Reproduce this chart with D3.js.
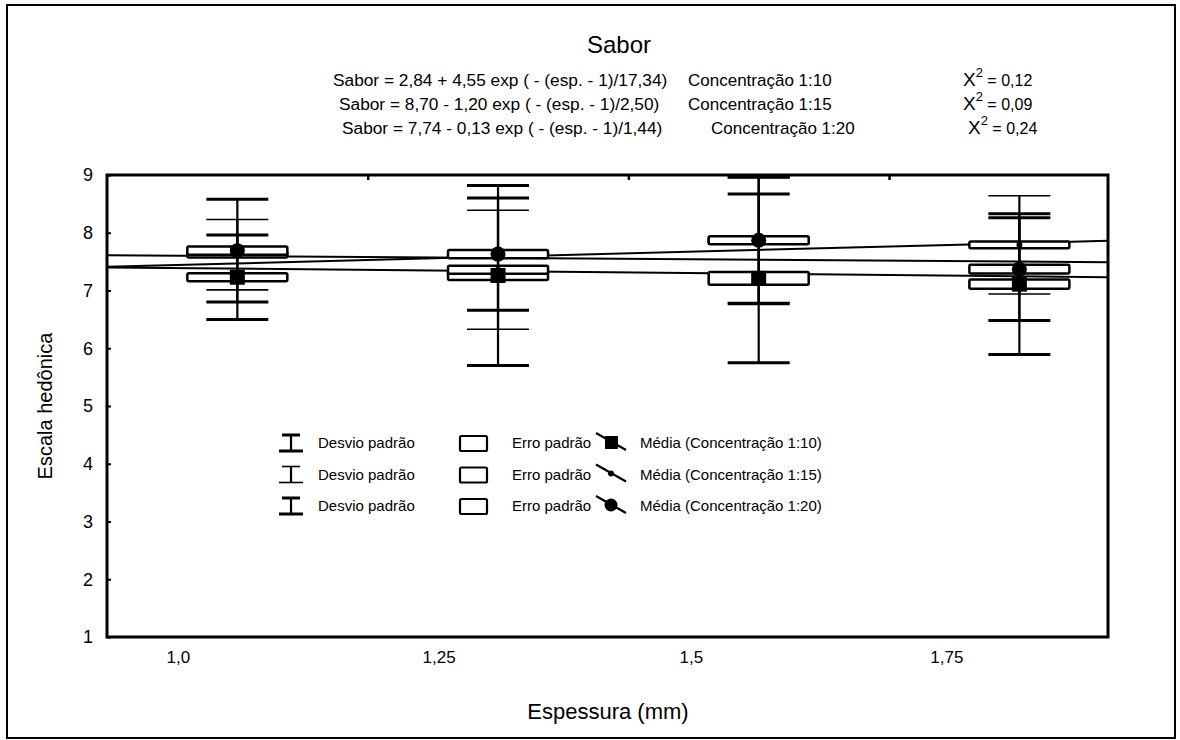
<!DOCTYPE html>
<html>
<head>
<meta charset="utf-8">
<script src="https://cdn.jsdelivr.net/npm/d3@7"></script>
<style>
  body { margin: 0; background: #fff; }
  svg { font-family: "Liberation Sans", Arial, sans-serif; }
  text { fill: #000; }
</style>
</head>
<body>
<svg></svg>
<script>
const width = 1180;
const height = 740;

// categories (espessura, mm) and where their labels sit
const esp = [1.0, 1.25, 1.5, 1.75];
const xLabels = ["1,0", "1,25", "1,5", "1,75"];
const xLabelPos = [0.943, 1.193, 1.435, 1.68];
const xTopTicks = [1.125, 1.375, 1.625];
const yTicks = [1, 2, 3, 4, 5, 6, 7, 8, 9];

// Concentração 1:10 (square)
const mean10 = [7.23, 7.26, 7.21, 7.11];
const se10 = [0.07, 0.08, 0.11, 0.08];
const sd10 = [0.73, 1.56, 1.46, 1.22];
// Concentração 1:15 (small dot)
const mean15 = [7.62, 7.36, 7.87, 7.79];
const se15 = [0.05, 0.07, 0.05, 0.06];
const sd15 = [0.61, 1.03, 1.08, 0.85];
// Concentração 1:20 (circle)
const mean20 = [7.69, 7.63, 7.87, 7.37];
const se20 = [0.07, 0.07, 0.07, 0.075];
const sd20 = [0.89, 0.97, 1.10, 0.89];

// fitted curves, read at the left and right edge of the plot
const fitEsp = [0.875, 1.835];
const fit10 = [7.40, 7.23];
const fit15 = [7.41, 7.86];
const fit20 = [7.61, 7.49];

const equations = [
  "Sabor = 2,84 + 4,55 exp ( - (esp. - 1)/17,34)",
  "Sabor = 8,70 - 1,20 exp ( - (esp. - 1)/2,50)",
  "Sabor = 7,74 - 0,13 exp ( - (esp. - 1)/1,44)"
];
const concLabels = ["Concentração 1:10", "Concentração 1:15", "Concentração 1:20"];
const chiValues = ["0,12", "0,09", "0,24"];

const margin = { left: 107, right: 72, top: 175, bottom: 103 };

const svg = d3.select("svg").attr("width", width).attr("height", height);

const x = d3.scaleLinear().domain([0.875, 1.835]).range([margin.left, width - margin.right]);
const y = d3.scaleLinear().domain([1, 9]).range([height - margin.bottom, margin.top]);

// outer frame
svg.append("rect")
  .attr("x", 7).attr("y", 5)
  .attr("width", width - 12).attr("height", height - 7)
  .attr("fill", "none").attr("stroke", "#000").attr("stroke-width", 2);

// title and equations
svg.append("text")
  .attr("x", 619).attr("y", 53)
  .attr("text-anchor", "middle")
  .attr("font-size", 24)
  .text("Sabor");

const eqX = [333, 339, 342];
const concX = [688, 688, 711];
const chiX = [963, 963, 968];
const eqY = [86, 110, 134];

equations.forEach((eq, i) => {
  svg.append("text").attr("x", eqX[i]).attr("y", eqY[i]).attr("font-size", 17.3).text(eq);
  svg.append("text").attr("x", concX[i]).attr("y", eqY[i]).attr("font-size", 17).text(concLabels[i]);
  const t = svg.append("text").attr("x", chiX[i]).attr("y", eqY[i]).attr("font-size", 19);
  t.append("tspan").text("X");
  t.append("tspan").attr("dy", -9).attr("font-size", 13).text("2");
  t.append("tspan").attr("dy", 9).attr("font-size", 16).text(" = " + chiValues[i]);
});

// axes
const yAxis = d3.axisLeft(y).tickValues(yTicks).tickSize(-4).tickPadding(14);
svg.append("g")
  .attr("transform", "translate(" + margin.left + ",0)")
  .call(yAxis)
  .call(g => g.select(".domain").remove())
  .call(g => g.selectAll("line").attr("stroke-width", 2))
  .selectAll("text").attr("font-size", 18).attr("fill", "#000");

const xAxis = d3.axisBottom(x)
  .tickValues(xLabelPos)
  .tickFormat((d, i) => xLabels[i])
  .tickSize(0).tickPadding(14);
svg.append("g")
  .attr("transform", "translate(0," + (height - margin.bottom) + ")")
  .call(xAxis)
  .call(g => g.select(".domain").remove())
  .selectAll("text").attr("font-size", 17).attr("fill", "#000");

const topAxis = d3.axisTop(x).tickValues(xTopTicks).tickFormat("").tickSize(-5);
svg.append("g")
  .attr("transform", "translate(0," + margin.top + ")")
  .call(topAxis)
  .call(g => g.select(".domain").remove())
  .selectAll("line").attr("stroke-width", 2.5);

svg.append("text")
  .attr("transform", "translate(52," + ((margin.top + height - margin.bottom) / 2) + ") rotate(-90)")
  .attr("text-anchor", "middle")
  .attr("font-size", 20)
  .text("Escala hedônica");

svg.append("text")
  .attr("x", 608).attr("y", 719)
  .attr("text-anchor", "middle")
  .attr("font-size", 22)
  .text("Espessura (mm)");

// plot frame
svg.append("rect")
  .attr("x", margin.left).attr("y", margin.top)
  .attr("width", width - margin.left - margin.right)
  .attr("height", height - margin.top - margin.bottom)
  .attr("fill", "none").attr("stroke", "#000").attr("stroke-width", 3);

const plot = svg.append("g");

// fitted lines
const line = d3.line().x(d => x(d[0])).y(d => y(d[1]));
[fit10, fit15, fit20].forEach(f => {
  plot.append("path")
    .attr("d", line(fitEsp.map((e, i) => [e, f[i]])))
    .attr("fill", "none").attr("stroke", "#000").attr("stroke-width", 2);
});

const series = [
  { mean: mean10, se: se10, sd: sd10, whisker: 3, marker: "square" },
  { mean: mean15, se: se15, sd: sd15, whisker: 1.6, marker: "dot" },
  { mean: mean20, se: se20, sd: sd20, whisker: 3, marker: "circle" }
];

const capHalf = 31;
const boxHalf = 50;
const yCapped = v => y(Math.min(9, v));

series.forEach(s => {
  const rows = esp.map((e, i) => ({ e: e, m: s.mean[i], se: s.se[i], sd: s.sd[i] }));
  const g = plot.append("g");

  g.selectAll(".whisk").data(rows).enter().append("line")
    .attr("x1", d => x(d.e)).attr("x2", d => x(d.e))
    .attr("y1", d => yCapped(d.m + d.sd)).attr("y2", d => y(d.m - d.sd))
    .attr("stroke", "#000").attr("stroke-width", 2.2);

  g.selectAll(".capHi").data(rows).enter().append("line")
    .attr("x1", d => x(d.e) - capHalf).attr("x2", d => x(d.e) + capHalf)
    .attr("y1", d => yCapped(d.m + d.sd)).attr("y2", d => yCapped(d.m + d.sd))
    .attr("stroke", "#000").attr("stroke-width", s.whisker);

  g.selectAll(".capLo").data(rows).enter().append("line")
    .attr("x1", d => x(d.e) - capHalf).attr("x2", d => x(d.e) + capHalf)
    .attr("y1", d => y(d.m - d.sd)).attr("y2", d => y(d.m - d.sd))
    .attr("stroke", "#000").attr("stroke-width", s.whisker);

  g.selectAll(".box").data(rows).enter().append("rect")
    .attr("x", d => x(d.e) - boxHalf).attr("width", boxHalf * 2)
    .attr("y", d => y(d.m + d.se)).attr("height", d => y(d.m - d.se) - y(d.m + d.se))
    .attr("rx", 1.5)
    .attr("fill", "#fff").attr("stroke", "#000").attr("stroke-width", 2.5);

  g.selectAll(".stem").data(rows).enter().append("line")
    .attr("x1", d => x(d.e)).attr("x2", d => x(d.e))
    .attr("y1", d => y(d.m + d.se)).attr("y2", d => y(d.m - d.se))
    .attr("stroke", "#000").attr("stroke-width", 2.2);
});

// markers on top
series.forEach(s => {
  const rows = esp.map((e, i) => ({ e: e, m: s.mean[i] }));
  if (s.marker === "square") {
    plot.selectAll(null).data(rows).enter().append("rect")
      .attr("x", d => x(d.e) - 7.5).attr("y", d => y(d.m) - 7.5)
      .attr("width", 15).attr("height", 15).attr("fill", "#000");
  } else {
    plot.selectAll(null).data(rows).enter().append("circle")
      .attr("cx", d => x(d.e)).attr("cy", d => y(d.m))
      .attr("r", s.marker === "dot" ? 3 : 7.5).attr("fill", "#000");
  }
});

// legend
const legendRows = [
  { w: 3, marker: "square", label: "Média (Concentração 1:10)" },
  { w: 1.6, marker: "dot", label: "Média (Concentração 1:15)" },
  { w: 3, marker: "circle", label: "Média (Concentração 1:20)" }
];
const lg = svg.append("g");
legendRows.forEach((r, i) => {
  const cy = 443 + i * 31.5;
  // whisker icon
  lg.append("line").attr("x1", 291).attr("x2", 291).attr("y1", cy - 8).attr("y2", cy + 8)
    .attr("stroke", "#000").attr("stroke-width", 2.2);
  lg.append("line").attr("x1", 282).attr("x2", 300).attr("y1", cy - 8).attr("y2", cy - 8)
    .attr("stroke", "#000").attr("stroke-width", r.w);
  lg.append("line").attr("x1", 279).attr("x2", 303).attr("y1", cy + 8).attr("y2", cy + 8)
    .attr("stroke", "#000").attr("stroke-width", r.w);
  lg.append("text").attr("x", 318).attr("y", cy + 5).attr("font-size", 15).text("Desvio padrão");
  // box icon
  lg.append("rect").attr("x", 460).attr("y", cy - 7).attr("width", 27).attr("height", 15).attr("rx", 1.5)
    .attr("fill", "none").attr("stroke", "#000").attr("stroke-width", 2.2);
  lg.append("text").attr("x", 512).attr("y", cy + 5).attr("font-size", 15).text("Erro padrão");
  // marker icon
  lg.append("line").attr("x1", 596).attr("x2", 626).attr("y1", cy - 10).attr("y2", cy + 7)
    .attr("stroke", "#000").attr("stroke-width", 2.2);
  if (r.marker === "square") {
    lg.append("rect").attr("x", 605).attr("y", cy - 7).attr("width", 13).attr("height", 13).attr("fill", "#000");
  } else {
    lg.append("circle").attr("cx", 611).attr("cy", cy - 1).attr("r", r.marker === "dot" ? 3 : 6.5).attr("fill", "#000");
  }
  lg.append("text").attr("x", 640).attr("y", cy + 5).attr("font-size", 15).text(r.label);
});
</script>
</body>
</html>
